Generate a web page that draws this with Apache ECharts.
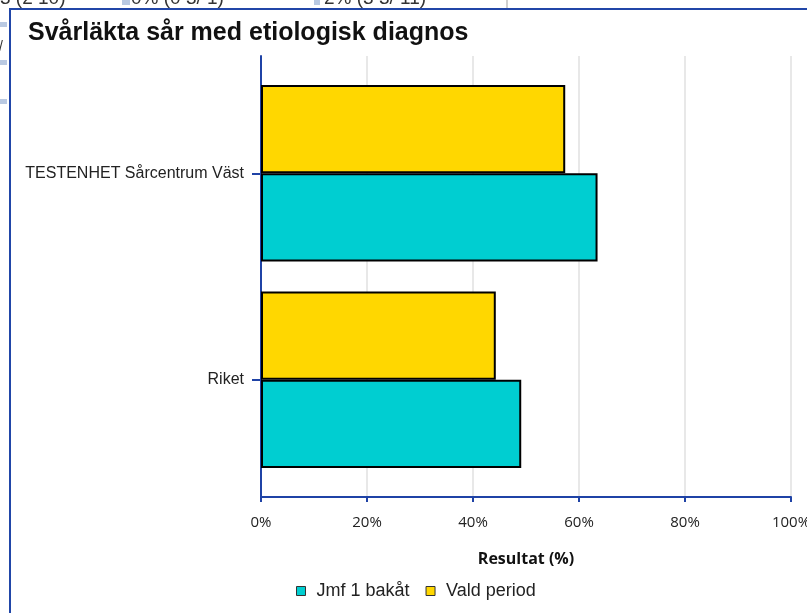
<!DOCTYPE html>
<html>
<head>
<meta charset="utf-8">
<script src="https://cdn.jsdelivr.net/npm/echarts@6/dist/echarts.min.js"></script>
<style>
  html, body { margin: 0; padding: 0; background: #fff; }
  #chart { width: 807px; height: 613px; }
</style>
</head>
<body>
<div id="chart"></div>
<script>
// data
const categories = ['Riket', 'TESTENHET Sårcentrum Väst'];
const jmfBakat = [49.1, 63.5];
const valdPeriod = [44.3, 57.4];
const xTicks = [0, 20, 40, 60, 80, 100];

const axisBlue = '#1f43a6';

const chart = echarts.init(document.getElementById('chart'));

const barStyle = color => ({ color: color, borderColor: '#000', borderWidth: 2 });

const option = {
  animation: false,
  title: {
    text: 'Svårläkta sår med etiologisk diagnos',
    left: 28,
    top: 21,
    padding: 0,
    textStyle: { fontFamily: 'Liberation Sans', fontWeight: 'bold', fontSize: 25, color: '#111' }
  },
  legend: {
    data: ['Jmf 1 bakåt', 'Vald period'],
    left: 291,
    top: 577,
    icon: 'rect',
    itemWidth: 9,
    itemHeight: 9,
    itemGap: 16,
    itemStyle: { borderColor: '#333', borderWidth: 1 },
    textStyle: { fontFamily: 'Liberation Sans', fontSize: 18, color: '#222', padding: [0, 0, 0, 6] }
  },
  grid: [
    { left: 261, right: 16, top: 56, bottom: 116, outerBoundsMode: 'none' },
    { left: 261, right: 16, top: 70, bottom: 130, outerBoundsMode: 'none' }
  ],
  xAxis: [{
    gridIndex: 0,
    type: 'value',
    min: xTicks[0],
    max: xTicks[xTicks.length - 1],
    interval: xTicks[1] - xTicks[0],
    axisLine: { show: true, lineStyle: { color: axisBlue, width: 2 } },
    axisTick: { show: true, length: 5, lineStyle: { color: axisBlue, width: 2 } },
    axisLabel: { formatter: '{value}%', margin: 18, fontFamily: 'Open Sans', fontSize: 15, color: '#222' },
    splitLine: { show: true, lineStyle: { color: '#e8e8e8', width: 2 } },
    name: 'Resultat (%)',
    nameLocation: 'middle',
    nameGap: 54,
    nameTextStyle: { fontFamily: 'Open Sans', fontWeight: 'bold', fontSize: 16, color: '#111' }
  }, {
    gridIndex: 1,
    type: 'value',
    min: xTicks[0],
    max: xTicks[xTicks.length - 1],
    show: false
  }],
  yAxis: [{
    gridIndex: 0,
    type: 'category',
    data: categories,
    axisLine: { show: true, lineStyle: { color: axisBlue, width: 2 } },
    axisTick: { show: false },
    axisLabel: { show: false },
    splitLine: { show: false }
  }, {
    gridIndex: 1,
    type: 'category',
    data: categories,
    axisLine: { show: false },
    axisTick: { show: true, alignWithLabel: true, length: 9, lineStyle: { color: axisBlue, width: 2 } },
    axisLabel: { margin: 17, fontFamily: 'Liberation Sans', fontSize: 16, color: '#222' },
    splitLine: { show: false }
  }],
  series: [{
    name: 'Vald period',
    type: 'bar',
    xAxisIndex: 1,
    yAxisIndex: 1,
    data: valdPeriod,
    barGap: '0%',
    barCategoryGap: '14.6%',
    itemStyle: barStyle('#FFD700')
  }, {
    name: 'Jmf 1 bakåt',
    type: 'bar',
    xAxisIndex: 1,
    yAxisIndex: 1,
    data: jmfBakat,
    barGap: '0%',
    barCategoryGap: '14.6%',
    itemStyle: barStyle('#00CED1')
  }],
  graphic: [
    // page bits behind the chart panel
    { type: 'text', x: 0, y: 8, style: { text: '3 (2 10)', font: '19px "Liberation Sans"', fill: '#333', verticalAlign: 'bottom' } },
    { type: 'rect', shape: { x: 122, y: 0, width: 8, height: 5 }, style: { fill: '#b9c9e2' } },
    { type: 'text', x: 131, y: 8, style: { text: '0% (0 3/ 1)', font: '19px "Liberation Sans"', fill: '#333', verticalAlign: 'bottom' } },
    { type: 'rect', shape: { x: 314, y: 0, width: 6, height: 5 }, style: { fill: '#b9c9e2' } },
    { type: 'text', x: 324, y: 8, style: { text: '2% (3 3/ 11)', font: '19px "Liberation Sans"', fill: '#333', verticalAlign: 'bottom' } },
    { type: 'rect', shape: { x: 506, y: 0, width: 2, height: 8 }, style: { fill: '#d0d0d0' } },
    { type: 'rect', shape: { x: 0, y: 22, width: 7, height: 5 }, style: { fill: '#b9c9e2' } },
    { type: 'rect', shape: { x: 0, y: 60, width: 7, height: 5 }, style: { fill: '#b9c9e2' } },
    { type: 'rect', shape: { x: 0, y: 99, width: 7, height: 5 }, style: { fill: '#b9c9e2' } },
    { type: 'text', x: -1, y: 40, style: { text: '/', font: '14px "Liberation Sans"', fill: '#333' } },
    // panel frame
    { type: 'rect', shape: { x: 10, y: 9, width: 830, height: 640 }, style: { fill: null, stroke: '#2146a8', lineWidth: 2 } }
  ]
};

chart.setOption(option);
</script>
</body>
</html>
